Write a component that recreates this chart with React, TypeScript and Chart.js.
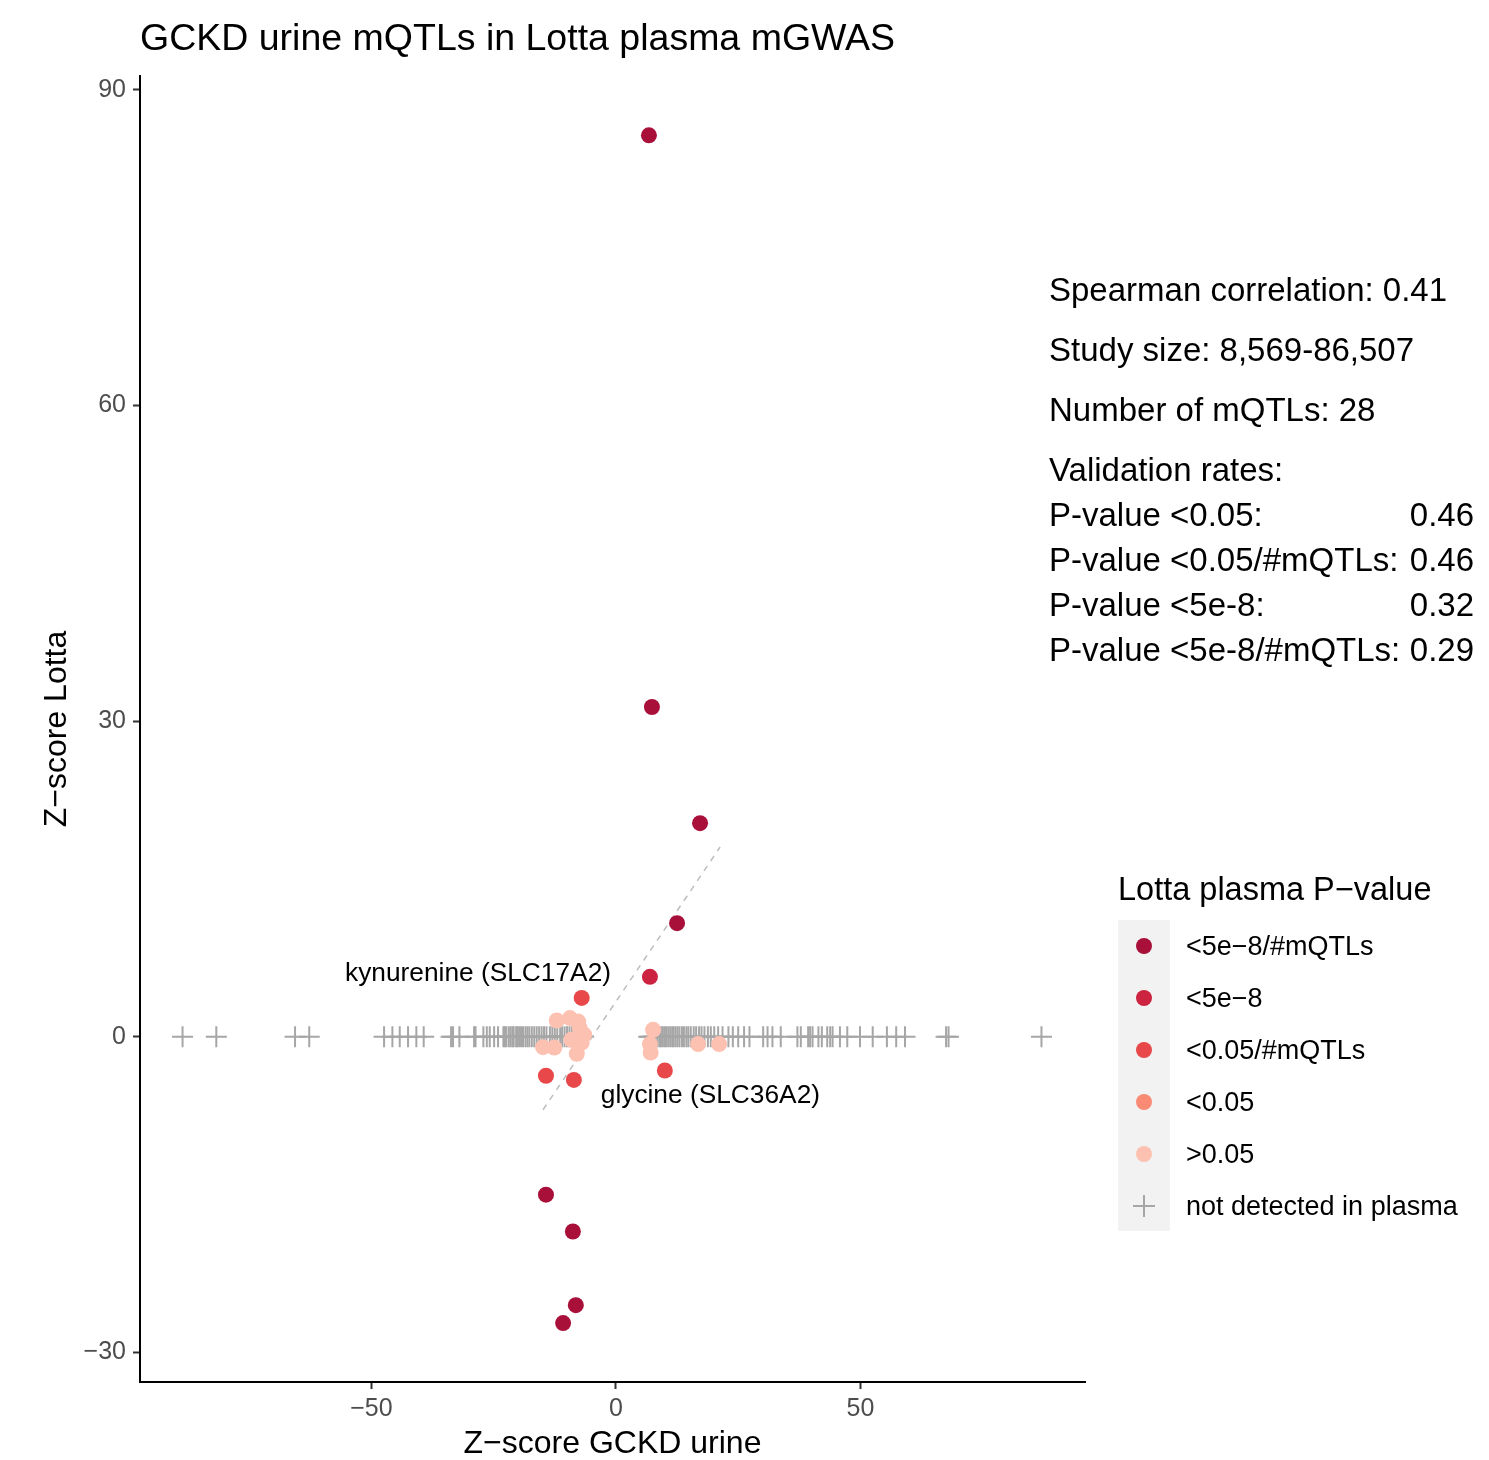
import React, { useEffect, useRef } from "react";
import { Chart, registerables } from "chart.js";

Chart.register(...registerables);

const FONT = "'Liberation Sans', Arial, Helvetica, sans-serif";

// Axis settings
const X_MIN = -97.3;
const X_MAX = 95.9;
const Y_MIN = -32.8;
const Y_MAX = 91.3;
const X_TICKS = [-50, 0, 50];
const Y_TICKS = [-30, 0, 30, 60, 90];

// mQTLs by Lotta plasma P-value class: [GCKD urine z, Lotta z]
const sigBonfGw: [number, number][] = [
  [6.75, 85.66],
  [7.36, 31.34],
  [17.2, 20.3],
  [12.5, 10.8],
  [-14.3, -15.0],
  [-8.8, -18.5],
  [-8.2, -25.5],
  [-10.8, -27.2],
];
const sigGw: [number, number][] = [[6.95, 5.7]];
const sigBonfNominal: [number, number][] = [
  [-7.0, 3.7],
  [-14.3, -3.7],
  [-8.6, -4.1],
  [10.0, -3.2],
];
const sigNominal: [number, number][] = [];
const notSig: [number, number][] = [
  [-12.1, 1.55],
  [-9.4, 1.78],
  [-7.7, 1.45],
  [-7.4, 0.83],
  [-6.5, 0.2],
  [-9.1, -0.28],
  [-7.0, -0.54],
  [-14.9, -0.98],
  [-12.6, -1.02],
  [-8.0, -1.61],
  [7.6, 0.66],
  [6.95, -0.69],
  [7.1, -1.49],
  [16.8, -0.69],
  [21.1, -0.69],
];

// mQTLs whose metabolite was not detected in plasma (GCKD urine z, plotted at 0)
const notDetected: number[] = [
  -88.6, -81.7, -65.6, -62.7, -47.4, -45.7, -44.2, -42.5, -40.8, -39.3,
  -33.7, -33.3, -32.0, -29.0, -28.7, -27.1, -26.4, -25.8, -24.9, -24.1,
  -23.0, -22.7, -22.4, -21.9, -21.5, -21.1, -20.9, -20.4, -20.2, -19.8,
  -19.4, -19.0, -18.5, -18.1, -17.7, -17.2, -16.7, -16.2, -15.7, -15.2,
  -14.7, -14.2, -13.5, -13.0, -12.5, -12.0, -11.4, -11.0, -10.5, -10.0,
  -9.5, -9.0, -8.5, -8.0, -7.5, -7.0, -6.6,
  6.7, 7.0, 7.4, 7.8, 8.1, 8.5, 8.9, 9.2, 9.6, 10.0, 10.3, 10.7, 11.1,
  11.5, 11.8, 12.2, 12.6, 13.0, 13.5, 13.9, 14.4, 14.8, 15.3, 15.9, 16.4,
  17.0, 17.5, 18.1, 18.8, 19.4, 20.1, 20.9, 21.8,
  23.0, 23.9, 25.0, 26.2, 27.3, 30.1, 31.0, 32.0, 33.7,
  37.1, 37.8, 39.3, 39.7, 40.2, 41.4, 42.1, 43.2, 43.8, 44.3, 45.8, 47.3,
  49.9, 52.5, 55.4, 57.3, 59.1, 67.5, 68.0, 87.0,
];

// Fitted trend through the validated mQTLs
const trendLine: [number, number][] = [
  [-14.9, -6.93],
  [21.3, 18.04],
];

const LEGEND_LABELS = [
  "<5e\u22128/#mQTLs",
  "<5e\u22128",
  "<0.05/#mQTLs",
  "<0.05",
  ">0.05",
  "not detected in plasma",
];
const CLASS_COLORS = ["#A91039", "#CB2340", "#E8484A", "#F98B74", "#FDC1B1"];
const CROSS_COLOR = "#A6A6A6";

const STATS_LINES = [
  "Spearman correlation: 0.41",
  "Study size: 8,569-86,507",
  "Number of mQTLs: 28",
  "Validation rates:",
];
const RATE_LABELS = [
  "P-value <0.05:",
  "P-value <0.05/#mQTLs:",
  "P-value <5e-8:",
  "P-value <5e-8/#mQTLs:",
];
const RATE_VALUES = ["0.46", "0.46", "0.32", "0.29"];

const LABELS: { text: string; x: number; y: number; align: CanvasTextAlign }[] = [
  { text: "kynurenine (SLC17A2)", x: -1.0, y: 6.0, align: "right" },
  { text: "glycine (SLC36A2)", x: -3.1, y: -5.6, align: "left" },
];

const minus = (v: number) => String(v).replace("-", "\u2212");

const toPts = (arr: [number, number][]) => arr.map(([x, y]) => ({ x, y }));

const overlay = {
  id: "overlay",
  afterDraw(chart: any) {
    const ctx = chart.ctx as CanvasRenderingContext2D;
    const xs = chart.scales.x;
    const ys = chart.scales.y;
    ctx.save();
    ctx.textBaseline = "middle";

    // title
    ctx.fillStyle = "#000";
    ctx.textAlign = "left";
    ctx.font = `37.5px ${FONT}`;
    ctx.fillText("GCKD urine mQTLs in Lotta plasma mGWAS", 140, 40);

    // axis titles
    ctx.font = `32px ${FONT}`;
    ctx.textAlign = "center";
    ctx.fillText("Z\u2212score GCKD urine", (xs.left + xs.right) / 2, 1444);
    ctx.save();
    ctx.translate(57, (ys.top + ys.bottom) / 2);
    ctx.rotate(-Math.PI / 2);
    ctx.fillText("Z\u2212score Lotta", 0, 0);
    ctx.restore();

    // point labels
    ctx.font = `26.3px ${FONT}`;
    LABELS.forEach((l) => {
      ctx.textAlign = l.align;
      ctx.fillText(l.text, xs.getPixelForValue(l.x), ys.getPixelForValue(l.y));
    });

    // summary statistics
    ctx.font = `33px ${FONT}`;
    ctx.textAlign = "left";
    STATS_LINES.forEach((t, i) => ctx.fillText(t, 1049, 292 + i * 60));
    RATE_LABELS.forEach((t, i) => {
      ctx.textAlign = "left";
      ctx.fillText(t, 1049, 517 + i * 45);
      ctx.textAlign = "right";
      ctx.fillText(RATE_VALUES[i], 1474, 517 + i * 45);
    });

    // legend
    ctx.textAlign = "left";
    ctx.font = `32.5px ${FONT}`;
    ctx.fillText("Lotta plasma P\u2212value", 1118, 891);
    ctx.fillStyle = "#F2F2F2";
    ctx.fillRect(1118, 920, 52, 311);
    ctx.font = `27px ${FONT}`;
    LEGEND_LABELS.forEach((lab, i) => {
      const cy = 946 + i * 52;
      if (i < CLASS_COLORS.length) {
        ctx.fillStyle = CLASS_COLORS[i];
        ctx.beginPath();
        ctx.arc(1144, cy, 8, 0, Math.PI * 2);
        ctx.fill();
      } else {
        ctx.strokeStyle = CROSS_COLOR;
        ctx.lineWidth = 2;
        ctx.beginPath();
        ctx.moveTo(1133, cy);
        ctx.lineTo(1155, cy);
        ctx.moveTo(1144, cy - 11);
        ctx.lineTo(1144, cy + 11);
        ctx.stroke();
      }
      ctx.fillStyle = "#000";
      ctx.fillText(lab, 1186, cy + 2);
    });
    ctx.restore();
  },
};

export default function App() {
  const ref = useRef<HTMLCanvasElement | null>(null);

  useEffect(() => {
    if (!ref.current) return;
    const classSets = [sigBonfGw, sigGw, sigBonfNominal, sigNominal, notSig].map(
      (arr, i) => ({
        type: "scatter" as const,
        label: LEGEND_LABELS[i],
        data: toPts(arr),
        pointStyle: "circle" as const,
        pointRadius: 8,
        pointHoverRadius: 8,
        pointBorderWidth: 0,
        backgroundColor: CLASS_COLORS[i],
        borderColor: CLASS_COLORS[i],
        order: 5 - i,
      })
    );
    const chart = new Chart(ref.current, {
      type: "scatter",
      data: {
        datasets: [
          {
            type: "scatter",
            label: LEGEND_LABELS[5],
            data: notDetected.map((x) => ({ x, y: 0 })),
            pointStyle: "cross",
            pointRadius: 10.5,
            pointHoverRadius: 10.5,
            pointBorderWidth: 2,
            borderColor: CROSS_COLOR,
            backgroundColor: CROSS_COLOR,
            order: 20,
          },
          {
            type: "line",
            label: "trend",
            data: toPts(trendLine),
            borderColor: "#BDBDBD",
            borderWidth: 1.5,
            borderDash: [6, 6],
            pointRadius: 0,
            fill: false,
            order: 15,
          } as any,
          ...classSets,
        ],
      },
      options: {
        responsive: false,
        animation: false,
        events: [],
        layout: { padding: { left: 0, top: 76, right: 404, bottom: 0 } },
        plugins: {
          legend: { display: false },
          tooltip: { enabled: false },
          title: { display: false },
        },
        scales: {
          x: {
            type: "linear",
            min: X_MIN,
            max: X_MAX,
            afterBuildTicks: (s: any) => {
              s.ticks = X_TICKS.map((v) => ({ value: v }));
            },
            afterFit: (s: any) => {
              s.height = 78;
            },
            grid: {
              display: true,
              drawOnChartArea: false,
              drawTicks: true,
              tickLength: 7,
              tickColor: "#333333",
              tickWidth: 2,
            },
            border: { display: true, color: "#000000", width: 2 },
            ticks: {
              color: "#4D4D4D",
              font: { family: FONT, size: 25 },
              padding: 5,
              maxRotation: 0,
              callback: (v: any) => minus(Number(v)),
            },
          },
          y: {
            type: "linear",
            min: Y_MIN,
            max: Y_MAX,
            afterBuildTicks: (s: any) => {
              s.ticks = Y_TICKS.map((v) => ({ value: v }));
            },
            afterFit: (s: any) => {
              s.width = 140;
            },
            grid: {
              display: true,
              drawOnChartArea: false,
              drawTicks: true,
              tickLength: 7,
              tickColor: "#333333",
              tickWidth: 2,
            },
            border: { display: true, color: "#000000", width: 2 },
            ticks: {
              color: "#4D4D4D",
              font: { family: FONT, size: 25 },
              padding: 7,
              callback: (v: any) => minus(Number(v)),
            },
          },
        },
      },
      plugins: [overlay],
    });
    return () => chart.destroy();
  }, []);

  return (
    <div style={{ position: "absolute", left: 0, top: 0, width: 1489, height: 1460, background: "#fff" }}>
      <canvas ref={ref} width={1489} height={1460} style={{ display: "block" }} />
    </div>
  );
}
